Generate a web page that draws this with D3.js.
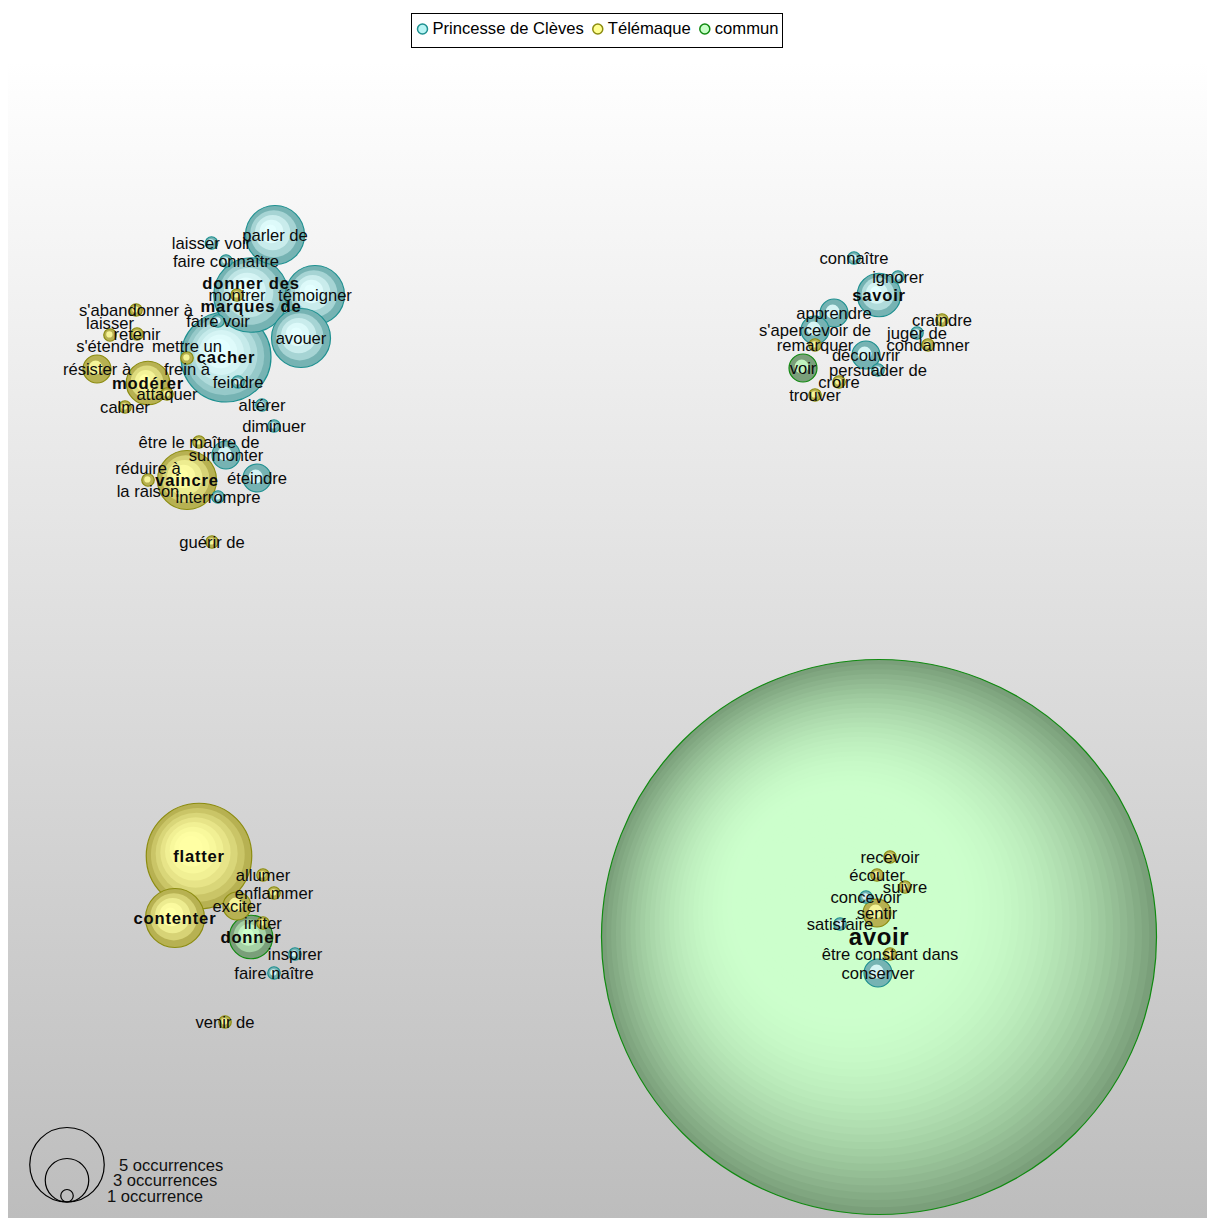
<!DOCTYPE html>
<html>
<head>
<meta charset="utf-8">
<script src="https://cdn.jsdelivr.net/npm/d3@7"></script>
<style>
  body { margin: 0; background: #fff; }
  text { font-family: "Liberation Sans", Arial, sans-serif; }
</style>
</head>
<body>
<div id="chart"></div>
<script>
// verbs, corpus, occurrences and layout position (layout units)
var labels = ["parler de", "laisser voir", "faire connaître", "donner des\nmarques de", "témoigner", "avouer",
    "montrer", "faire voir", "s'abandonner à", "laisser\ns'étendre", "retenir", "mettre un\nfrein à", "cacher",
    "résister à", "modérer", "attaquer", "feindre", "calmer", "altérer", "diminuer", "être le maître de",
    "surmonter", "réduire à\nla raison", "vaincre", "éteindre", "interrompre", "guérir de",
    "connaître", "ignorer", "savoir", "apprendre", "s'apercevoir de", "remarquer", "craindre", "juger de",
    "condamner", "découvrir", "persuader de", "voir", "croire", "trouver",
    "flatter", "contenter", "allumer", "enflammer", "exciter", "irriter", "donner", "inspirer", "faire naître", "venir de",
    "avoir", "recevoir", "écouter", "suivre", "concevoir", "sentir", "satisfaire", "être constant dans", "conserver"];
var corpus = ["P", "P", "P", "P", "P", "P",
    "T", "P", "T", "T", "T", "T", "P",
    "T", "T", "T", "P", "T", "P", "P", "T",
    "P", "T", "T", "P", "P", "T",
    "P", "P", "P", "P", "P", "T", "T", "P",
    "T", "P", "P", "C", "T", "T",
    "T", "T", "T", "T", "T", "T", "C", "P", "P", "T",
    "C", "T", "T", "T", "P", "T", "P", "T", "P"];
var occurrences = [4, 1, 1, 5, 4, 4,
    1, 1, 1, 1, 1, 1, 6,
    2, 3, 1, 1, 1, 1, 1, 1,
    2, 1, 4, 2, 1, 1,
    1, 1, 3, 2, 2, 1, 1, 1,
    1, 2, 1, 2, 1, 1,
    7, 4, 1, 1, 2, 1, 3, 1, 1, 1,
    36, 1, 1, 1, 1, 2, 1, 1, 2];
var posX = [267, 203.5, 218, 243, 307, 293,
    229, 210, 128, 102, 129, 179, 218,
    89, 140, 159, 230, 117, 254, 266, 191,
    218, 140, 179, 249, 210, 204,
    846, 890, 871, 826, 807, 807, 934, 909,
    920, 858, 870, 795, 831, 807,
    191, 167, 255, 266, 229, 255, 243, 287, 266, 217,
    871, 882, 869, 897, 858, 869, 832, 882, 870];
var posY = [174, 182, 200, 234, 234, 277,
    234, 260, 249, 274, 273, 297, 296,
    308, 322, 333, 321, 346, 344, 365, 381,
    394, 419, 419, 417, 436, 481,
    197, 216, 234, 252, 269, 284, 259, 272,
    284, 294, 309, 307, 321, 334,
    795, 857, 814, 832, 845, 862, 876, 893, 912, 961,
    876, 796, 814, 826, 836, 852, 863, 893, 912];
var hubs = ["donner des\nmarques de", "cacher", "modérer", "vaincre", "savoir", "flatter", "contenter", "donner", "avoir"];
var corpusNames = { P: "Princesse de Clèves", T: "Télémaque", C: "commun" };
var legendSizes = [5, 3, 1];

var W = 1207, H = 1218;
var plot = { left: 8, top: 61, right: 1207, bottom: 1218 };
var fs = 16.6;

var palette = {
    P: { outer: "#76b3b3", inner: "#e4ffff", stroke: "#1e9090", key: "#b8f4f4" },
    T: { outer: "#b7b152", inner: "#ffffa4", stroke: "#8c8c10", key: "#ffff90" },
    C: { outer: "#7a9f7a", inner: "#ccffcc", stroke: "#118a11", key: "#c8ffc8" }
};

var x = d3.scaleLinear().domain([0, plot.right - plot.left]).range([plot.left, plot.right]);
var y = d3.scaleLinear().domain([0, plot.bottom - plot.top]).range([plot.top, plot.bottom]);
var r = d3.scaleLinear().domain([1, 5]).range([6.25, 37.25]);

var nodes = labels.map(function (d, i) {
    return { label: d, corpus: corpus[i], n: occurrences[i], x: posX[i], y: posY[i], hub: hubs.indexOf(d) >= 0 };
});

var svg = d3.select("#chart").append("svg")
    .attr("width", W)
    .attr("height", H);

var defs = svg.append("defs");
var bg = defs.append("linearGradient").attr("id", "bg")
    .attr("x1", 0).attr("y1", 0).attr("x2", 0).attr("y2", 1);
bg.append("stop").attr("offset", "0%").attr("stop-color", "#ffffff");
bg.append("stop").attr("offset", "100%").attr("stop-color", "#bdbdbd");

svg.append("rect")
    .attr("x", plot.left).attr("y", plot.top)
    .attr("width", plot.right - plot.left).attr("height", plot.bottom - plot.top)
    .attr("fill", "url(#bg)");

// bubbles, biggest first, drawn as stacked rings
var bubbles = svg.append("g");
nodes.slice().sort(function (a, b) { return b.n - a.n; }).forEach(function (d) {
    var R = r(d.n), cx = x(d.x), cy = y(d.y);
    var col = palette[d.corpus];
    var K = Math.max(2, Math.round(R / 6));
    var span = Math.min(R * 0.8, 170);
    var g = bubbles.append("g");
    d3.range(K).forEach(function (i) {
        var ri = R * (1 - i / K);
        var inward = R - ri;
        var s = Math.min(1, inward / span);
        var off = inward * 0.2;
        g.append("circle")
            .attr("cx", cx - off)
            .attr("cy", cy - off)
            .attr("r", ri)
            .attr("fill", d3.interpolateRgb(col.outer, col.inner)(d3.easeQuadOut(s)))
            .attr("stroke", i == 0 ? col.stroke : "none")
            .attr("stroke-width", 1.2);
    });
});

// labels
var labelG = svg.append("g");
nodes.forEach(function (d) {
    var lines = d.label.split("\n");
    var big = d.n > 20;
    var t = labelG.append("text")
        .attr("x", x(d.x))
        .attr("y", y(d.y))
        .attr("text-anchor", "middle")
        .attr("font-size", big ? 24 : fs)
        .attr("font-weight", d.hub ? "bold" : "normal")
        .attr("letter-spacing", d.hub ? (big ? 0.6 : 0.8) : 0)
        .attr("fill", "#0a0a0a");
    lines.forEach(function (l, j) {
        t.append("tspan")
            .attr("x", x(d.x))
            .attr("y", y(d.y) + (j - (lines.length - 1) / 2) * 23)
            .attr("dy", "0.35em")
            .text(l);
    });
});

// corpus legend
var leg = svg.append("g").attr("transform", "translate(411.5,13.5)");
leg.append("rect").attr("width", 371).attr("height", 34)
    .attr("fill", "#fff").attr("stroke", "#000");
var lx = 11;
["P", "T", "C"].forEach(function (k) {
    leg.append("circle").attr("cx", lx).attr("cy", 15.5).attr("r", 5)
        .attr("fill", palette[k].key).attr("stroke", palette[k].stroke).attr("stroke-width", 1.5);
    var tt = leg.append("text").attr("x", lx + 10).attr("y", 14.5).attr("dy", "0.35em")
        .attr("font-size", fs).attr("fill", "#000").text(corpusNames[k]);
    lx += 10 + tt.node().getComputedTextLength() + 14;
});

// size legend
var sl = svg.append("g");
var sx = 67, sb = 1202;
legendSizes.forEach(function (n, i) {
    sl.append("circle").attr("cx", sx).attr("cy", sb - r(n)).attr("r", r(n))
        .attr("fill", "none").attr("stroke", "#000").attr("stroke-width", 1.2);
    sl.append("text")
        .attr("x", sx + 52 - i * 6)
        .attr("y", sb - 37 + i * 15.5)
        .attr("dy", "0.35em")
        .attr("font-size", fs).attr("fill", "#111")
        .text(n + (n > 1 ? " occurrences" : " occurrence"));
});
</script>
</body>
</html>
